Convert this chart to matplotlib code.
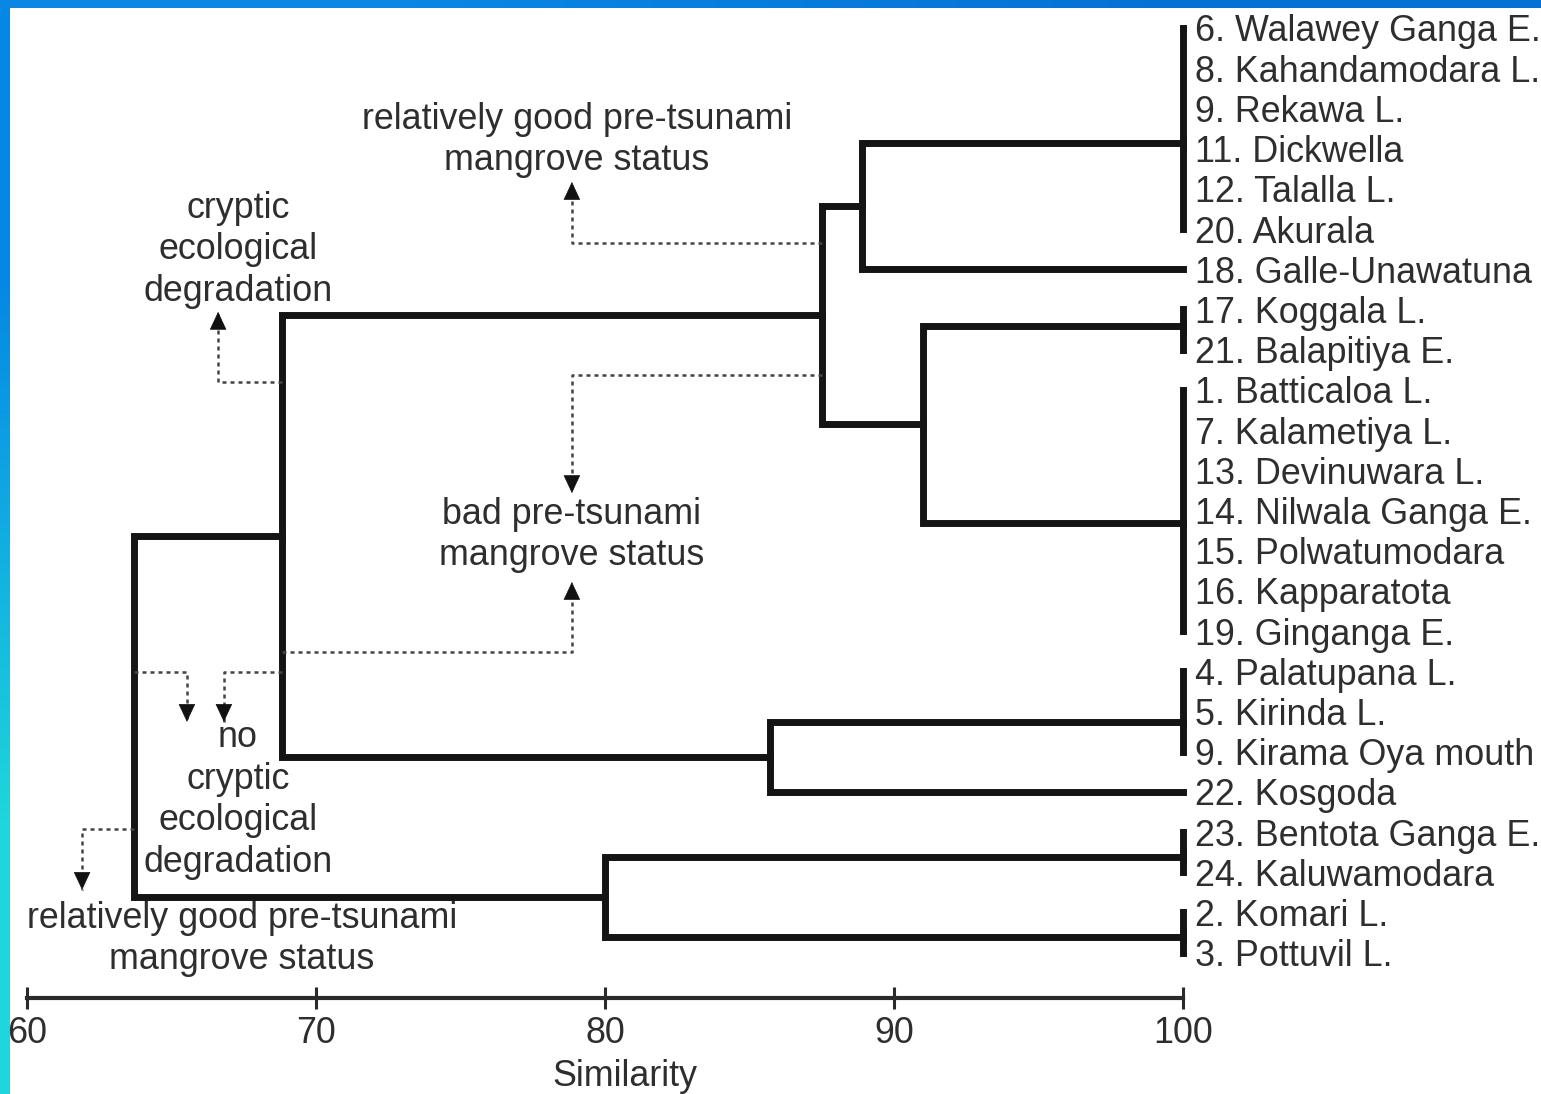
import matplotlib.pyplot as plt
import numpy as np

plt.rcParams['font.family'] = ['Liberation Sans', 'DejaVu Sans']

# site labels, top to bottom
sites = ["6. Walawey Ganga E.", "8. Kahandamodara L.", "9. Rekawa L.",
         "11. Dickwella", "12. Talalla L.", "20. Akurala",
         "18. Galle-Unawatuna", "17. Koggala L.", "21. Balapitiya E.",
         "1. Batticaloa L.", "7. Kalametiya L.", "13. Devinuwara L.",
         "14. Nilwala Ganga E.", "15. Polwatumodara", "16. Kapparatota",
         "19. Ginganga E.", "4. Palatupana L.", "5. Kirinda L.",
         "9. Kirama Oya mouth", "22. Kosgoda", "23. Bentota Ganga E.",
         "24. Kaluwamodara", "2. Komari L.", "3. Pottuvil L."]

# groups of sites that are identical (100 % similarity)
tied_first = [0, 7, 9, 16, 20, 22]
tied_last = [5, 8, 15, 18, 21, 23]
tied_stem = [2.86, 7.41, 12.31, 17.26, 20.62, 22.6]

# merges: g = tied group, s = single site, n = earlier merge
merge_a = ["g0", "g1", "n0", "g3", "n2", "g4", "n4"]
merge_b = ["s6", "g2", "n1", "s19", "n3", "g5", "n5"]
merge_sim = [88.9, 91.0, 87.5, 85.7, 68.8, 80.0, 63.7]

sim_ticks = [60, 70, 80, 90, 100]

# dotted pointers (similarity, row) and their texts
pointers = [
    [(87.5, 5.35), (78.85, 5.35), (78.85, 3.83)],
    [(68.8, 8.81), (66.6, 8.81), (66.6, 7.06)],
    [(87.5, 8.63), (78.85, 8.63), (78.85, 11.57)],
    [(68.8, 15.52), (78.85, 15.52), (78.85, 13.78)],
    [(63.7, 16.02), (65.52, 16.02), (65.52, 17.26)],
    [(68.8, 16.02), (66.8, 16.02), (66.8, 17.26)],
    [(63.7, 19.93), (61.89, 19.93), (61.89, 21.44)],
]
notes = ["relatively good pre-tsunami\nmangrove status",
         "cryptic\necological\ndegradation",
         "bad pre-tsunami\nmangrove status",
         "no\ncryptic\necological\ndegradation",
         "relatively good pre-tsunami\nmangrove status"]
note_pos = [(79.03, 2.79), (67.29, 5.52), (78.85, 12.61), (67.29, 19.2), (67.43, 22.66)]

line_c = "#141414"
text_c = "#2e2e2e"
fs = 25.8

fig = plt.figure(figsize=(15.41, 10.94), dpi=100)
ax = fig.add_axes([0, 0, 1, 1])
ax.set_xlim(59.048, 112.406)
ax.set_ylim(26.517, -0.6965)

pos = {}
for i in range(len(sites)):
    pos["s%d" % i] = (100, i)
for k in range(len(tied_first)):
    pos["g%d" % k] = (100, tied_stem[k])
    ax.plot([100, 100], [tied_first[k], tied_last[k]], color=line_c, lw=5,
            solid_capstyle="projecting")
for k in range(len(merge_sim)):
    xa, ya = pos[merge_a[k]]
    xb, yb = pos[merge_b[k]]
    s = merge_sim[k]
    ax.plot([xa, s, s, xb], [ya, ya, yb, yb], color=line_c, lw=5,
            solid_capstyle="projecting", solid_joinstyle="miter")
    pos["n%d" % k] = (s, (ya + yb) / 2)

for i, name in enumerate(sites):
    ax.annotate(name, (100, i), xytext=(9, 0), textcoords="offset points",
                ha="left", va="center_baseline", fontsize=fs, color=text_c)

for path in pointers:
    xs = [p[0] for p in path]
    ys = [p[1] for p in path]
    ax.plot(xs, ys, color="#444444", lw=1.8, linestyle=(0, (1.6, 1.6)))
    up = ys[-1] < ys[-2]
    ax.annotate("", xy=(xs[-1], ys[-1]), xytext=(0, -11 if up else 11),
                textcoords="offset points",
                arrowprops=dict(arrowstyle="-|>,head_length=0.6,head_width=0.28",
                                mutation_scale=20, color="#111111", lw=0.5,
                                shrinkA=0, shrinkB=0))

for txt, (x, y) in zip(notes, note_pos):
    ax.text(x, y, txt, ha="center", va="center", fontsize=fs, color=text_c,
            linespacing=1.245)

# similarity axis
for side in ["top", "right", "left"]:
    ax.spines[side].set_visible(False)
ax.spines["bottom"].set_position(("data", 24.13))
ax.spines["bottom"].set_bounds(60, 100)
ax.spines["bottom"].set_linewidth(3)
ax.spines["bottom"].set_color("#2a2a2a")
ax.set_xticks(sim_ticks)
ax.tick_params(axis="x", direction="inout", length=16, width=2.2, color="#2a2a2a",
               labelsize=fs, labelcolor=text_c, pad=5)
ax.set_yticks([])
ax.set_xlabel("Similarity", fontsize=fs, color=text_c)
ax.xaxis.set_label_coords(625 / 1541, 1 - 1077 / 1094)
ax.xaxis.label.set_va("center")

# blue frame on top and left
top = fig.add_axes([0, 1 - 8 / 1094, 1, 8 / 1094])
top.imshow(np.array([[[0.04, 0.53, 0.9], [0.02, 0.45, 0.83]]]), aspect="auto",
           interpolation="bilinear")
top.axis("off")
left = fig.add_axes([0, 0, 10 / 1541, 1 - 8 / 1094])
left.imshow(np.array([[[0.02, 0.53, 0.9]], [[0.12, 0.84, 0.86]]]), aspect="auto",
            interpolation="bilinear")
left.axis("off")

fig.savefig("out.png", dpi=100)
